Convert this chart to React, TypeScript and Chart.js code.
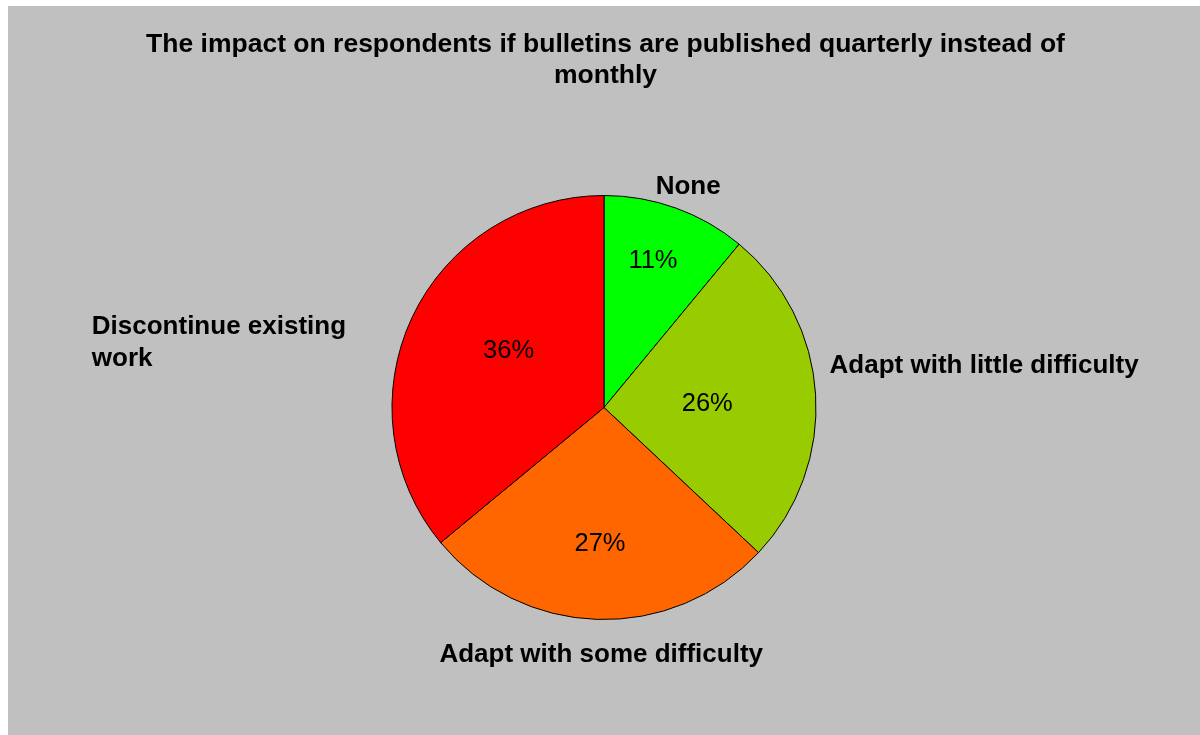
import React, { useEffect, useRef } from "react";
import { Chart, registerables } from "chart.js";

Chart.register(...registerables);

const titleLines = [
  "The impact on respondents if bulletins are published quarterly instead of",
  "monthly",
];
const categories = [
  "None",
  "Adapt with little difficulty",
  "Adapt with some difficulty",
  "Discontinue existing work",
];
const categoryLines = [
  ["None"],
  ["Adapt with little difficulty"],
  ["Adapt with some difficulty"],
  ["Discontinue existing", "work"],
];
const percentages = [11, 26, 27, 36];
const sliceColors = ["#00FF00", "#99CC00", "#FF6600", "#FF0000"];

// Label placement (relative to pie centre, in units of the radius)
const categoryLabelPos = [
  { dx: 0.397, dy: -1.05, align: "center" },
  { dx: 1.064, dy: -0.206, align: "left" },
  { dx: -0.013, dy: 1.156, align: "center" },
  { dx: -2.416, dy: -0.314, align: "left" },
];
const percentLabelPos = [
  { dx: 0.231, dy: -0.702 },
  { dx: 0.487, dy: -0.026 },
  { dx: -0.019, dy: 0.636 },
  { dx: -0.45, dy: -0.277 },
];

const FONT = '"Liberation Sans", Arial, Helvetica, sans-serif';

const labelPlugin = {
  id: "pieLabels",
  afterDatasetsDraw(chart: any) {
    const ctx = chart.ctx;
    const meta = chart.getDatasetMeta(0);
    const arc0 = meta.data[0];
    if (!arc0) return;
    const cx = arc0.x;
    const cy = arc0.y;
    const R = arc0.outerRadius;
    ctx.save();
    ctx.fillStyle = "#000";
    ctx.textBaseline = "alphabetic";

    // title
    ctx.font = `bold 26.5px ${FONT}`;
    ctx.textAlign = "center";
    const tx = chart.width / 2 + 1.5;
    ctx.fillText(titleLines[0], tx, 45.7);
    ctx.fillText(titleLines[1], tx, 76.7);

    // percentages
    ctx.font = `25.5px ${FONT}`;
    ctx.textAlign = "center";
    percentages.forEach((v, i) => {
      const p = percentLabelPos[i];
      ctx.fillText(`${v}%`, cx + p.dx * R, cy + p.dy * R + 9.1);
    });

    // category labels
    ctx.font = `bold 26px ${FONT}`;
    categoryLines.forEach((lines, i) => {
      const p = categoryLabelPos[i];
      ctx.textAlign = p.align as CanvasTextAlign;
      const lh = 32;
      const total = (lines.length - 1) * lh;
      lines.forEach((ln, j) => {
        ctx.fillText(ln, cx + p.dx * R, cy + p.dy * R - total / 2 + j * lh + 9.3);
      });
    });
    ctx.restore();
  },
};

export default function App() {
  const ref = useRef<HTMLCanvasElement>(null);
  useEffect(() => {
    if (!ref.current) return;
    const chart = new Chart(ref.current, {
      type: "pie",
      data: {
        labels: categories,
        datasets: [
          {
            data: percentages,
            backgroundColor: sliceColors,
            borderColor: "#000000",
            borderWidth: 1,
          },
        ],
      },
      options: {
        responsive: false,
        animation: false,
        devicePixelRatio: 1,
        layout: { padding: { top: 189, bottom: 115, left: 0, right: 0 } },
        plugins: {
          legend: { display: false },
          tooltip: { enabled: false },
          title: { display: false },
        },
      },
      plugins: [labelPlugin],
    });
    return () => chart.destroy();
  }, []);
  return (
    <div
      style={{
        position: "fixed",
        left: 8,
        top: 6,
        width: 1192,
        height: 729,
        background: "#C0C0C0",
        overflow: "hidden",
      }}
    >
      <canvas ref={ref} width={1192} height={729} style={{ display: "block" }} />
    </div>
  );
}
